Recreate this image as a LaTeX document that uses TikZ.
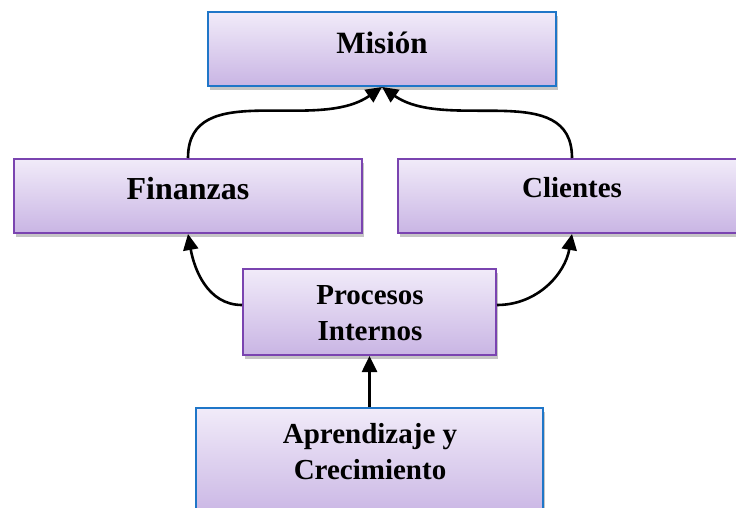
\documentclass[tikz,border=0pt]{standalone}
\usepackage{fontspec}
\setmainfont{Liberation Serif}
\usetikzlibrary{shadows,arrows.meta}
\definecolor{boxtop}{RGB}{241,235,249}
\definecolor{boxbot}{RGB}{201,181,228}
\definecolor{blueedge}{RGB}{31,118,200}
\definecolor{purpleedge}{RGB}{122,68,176}
\tikzset{
  box/.style={rectangle, draw=#1, line width=2pt, top color=boxtop, bottom color=boxbot,
    drop shadow={shadow xshift=2pt, shadow yshift=-4pt, fill=black!45, opacity=0.5},
    inner sep=0pt},
  lbl/.style={font=\fontsize{29}{36}\selectfont\bfseries, align=center, inner sep=0pt},
  link/.style={line width=2.6pt, -{Triangle[length=16pt,width=15pt]}},
}
\begin{document}
\begin{tikzpicture}[x=1pt,y=1pt]
\useasboundingbox (0,0) rectangle (736,-508);
\clip (0,0) rectangle (736,-508);

% boxes
\node[box=blueedge,   minimum width=348pt, minimum height=74pt] (mision) at (382,-49) {};
\node[box=purpleedge, minimum width=348pt, minimum height=74pt] (fin)    at (188,-196) {};
\node[box=purpleedge, minimum width=348pt, minimum height=74pt] (cli)    at (572,-196) {};
\node[box=purpleedge, minimum width=253pt, minimum height=86pt] (proc)   at (369.5,-312) {};
\node[box=blueedge,   minimum width=347pt, minimum height=110pt] (apr)   at (369.5,-463) {};

% labels
\node[lbl, font=\fontsize{31}{36}\selectfont\bfseries] (mision-t) at (382,-43) {Misión};
\node[lbl, font=\fontsize{32}{36}\selectfont\bfseries] (fin-t)  at (188,-189) {Finanzas};
\node[lbl] (cli-t)  at (572,-188) {Clientes};
\node[lbl] (proc-t) at (370,-313) {Procesos\\Internos};
\node[lbl] (apr-t)  at (370,-452) {Aprendizaje y\\Crecimiento};

% connectors
\draw[link] (fin.north) to[out=90,in=-145] (mision.south);
\draw[link] (cli.north) to[out=90,in=-35] (mision.south);
\draw[link] ([yshift=7pt]proc.west) to[out=180,in=-80] (fin.south);
\draw[link] ([yshift=7pt]proc.east) to[out=0,in=-100] (cli.south);
\draw[link] (apr.north) -- (proc.south);
\end{tikzpicture}
\end{document}
